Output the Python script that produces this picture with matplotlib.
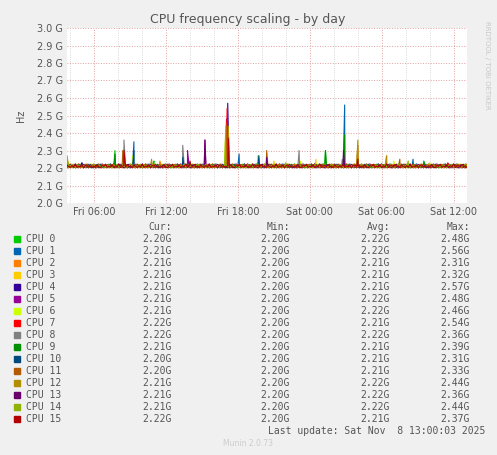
import matplotlib
matplotlib.use("Agg")
import matplotlib.pyplot as plt
import numpy as np

# ── Data (hours since Fri 00:00, values in GHz) ──
cpus = [f"CPU {i}" for i in range(16)]
colors = ["#00CC00", "#0066B3", "#FF8000", "#FFCC00", "#330099", "#990099",
          "#CCFF00", "#FF0000", "#808080", "#008F00", "#00487D", "#B35A00",
          "#B38F00", "#6B006B", "#8FB300", "#B30000"]
cur = ["2.20G", "2.21G", "2.21G", "2.21G", "2.21G", "2.21G", "2.21G", "2.22G",
       "2.22G", "2.21G", "2.20G", "2.20G", "2.21G", "2.21G", "2.21G", "2.22G"]
mins = ["2.20G"] * 16
avgs = ["2.22G", "2.22G", "2.21G", "2.21G", "2.21G", "2.22G", "2.22G", "2.21G",
        "2.22G", "2.21G", "2.21G", "2.21G", "2.22G", "2.22G", "2.22G", "2.21G"]
maxs = ["2.48G", "2.56G", "2.31G", "2.32G", "2.57G", "2.48G", "2.46G", "2.54G",
        "2.36G", "2.39G", "2.31G", "2.33G", "2.44G", "2.36G", "2.44G", "2.37G"]

# spikes: cpu -> [(hour, peak GHz)]
spikes = {
    0: [(7.75, 2.30), (17.1, 2.48), (25.3, 2.30), (19.7, 2.27), (11.0, 2.24)],
    1: [(9.33, 2.35), (26.9, 2.56), (18.1, 2.28), (32.6, 2.25)],
    2: [(8.5, 2.31), (30.4, 2.27), (3.75, 2.25), (11.5, 2.24)],
    3: [(3.75, 2.27), (21.0, 2.24), (24.5, 2.25), (34.0, 2.23)],
    4: [(17.15, 2.57), (13.8, 2.26), (5.0, 2.23)],
    5: [(17.05, 2.48), (15.25, 2.36), (13.8, 2.30)],
    6: [(17.0, 2.46), (9.2, 2.27), (23.2, 2.24), (31.0, 2.24)],
    7: [(17.1, 2.54), (3.75, 2.24), (28.0, 2.26), (35.5, 2.23)],
    8: [(8.5, 2.36), (13.4, 2.33), (23.1, 2.30), (26.7, 2.25)],
    9: [(26.9, 2.39), (25.3, 2.30), (7.75, 2.28), (33.5, 2.24)],
    10: [(19.75, 2.27), (9.33, 2.30), (13.4, 2.26)],
    11: [(28.0, 2.33), (20.4, 2.30), (8.4, 2.30), (31.5, 2.25)],
    12: [(17.2, 2.44), (28.0, 2.36), (30.4, 2.27), (10.8, 2.25)],
    13: [(15.25, 2.36), (26.8, 2.30), (20.4, 2.26)],
    14: [(17.0, 2.44), (3.75, 2.27), (32.2, 2.24), (22.0, 2.23)],
    15: [(17.2, 2.37), (8.5, 2.30), (28.0, 2.25), (14.0, 2.24)],
}
# hand-read baseline ripple around 2.2 GHz
ripple = [2.205, 2.212, 2.203, 2.218, 2.207, 2.201, 2.215, 2.209, 2.222, 2.204,
          2.211, 2.206, 2.219, 2.202, 2.213, 2.208, 2.224, 2.203, 2.210, 2.216,
          2.205, 2.221, 2.207, 2.212, 2.202, 2.217, 2.209, 2.204, 2.214, 2.206,
          2.220, 2.203, 2.211, 2.208, 2.215, 2.202, 2.213, 2.218, 2.205, 2.210]

t0, t1 = 3.75, 37.1
fig = plt.figure(figsize=(4.97, 4.55), dpi=100, facecolor="#f0f0f0")
ax = fig.add_axes([67 / 497, 1 - 203 / 455, 400 / 497, 175 / 455])
ax.set_facecolor("white")

for i in range(16):
    base_t = np.linspace(t0, t1, len(ripple) * 6)
    base_v = np.array([ripple[(k + 7 * i) % len(ripple)] for k in range(len(base_t))])
    pts = list(zip(base_t, base_v))
    for h, p in spikes[i]:
        pts += [(h - 0.12, 2.21), (h, p), (h + 0.12, 2.215)]
    pts.sort()
    tt, vv = zip(*pts)
    ax.plot(tt, vv, color=colors[i], lw=0.8)

ax.set_xlim(t0, t1)
ax.set_ylim(2.0, 3.0)
yt = np.round(np.arange(2.0, 3.01, 0.1), 1)
ax.set_yticks(yt)
ax.set_yticklabels([f"{v:.1f} G" for v in yt], fontsize=7, color="#555555")
ax.set_xticks([6, 12, 18, 24, 30, 36])
ax.set_xticklabels(["Fri 06:00", "Fri 12:00", "Fri 18:00", "Sat 00:00", "Sat 06:00", "Sat 12:00"],
                   fontsize=7, color="#555555")
ax.set_xticks(np.arange(4, 38, 2), minor=True)
ax.tick_params(length=0, which="both", pad=3)
ax.grid(True, which="minor", axis="x", color="#cccccc", ls=":", lw=0.6)
ax.grid(True, which="major", axis="both", color="#e0a0a0", ls=":", lw=0.7)
ax.set_axisbelow(True)
for s in ax.spines.values():
    s.set_visible(False)
ax.set_ylabel("Hz", fontsize=7, color="#555555", labelpad=8)
fig.text(248 / 497, 1 - 19 / 455, "CPU frequency scaling - by day", fontsize=9,
         color="#555555", ha="center", va="center")
fig.text(487 / 497, 1 - 65 / 455, "RRDTOOL / TOBI OETIKER", fontsize=5, color="#c8c8c8",
         rotation=270, ha="center", va="center")

mono = dict(family="DejaVu Sans Mono", fontsize=7, color="#555555", va="center")
def row_y(r):
    return 1 - (239 + 12 * r) / 455
fig.text(172 / 497, 1 - 227 / 455, "Cur:", ha="right", **mono)
fig.text(290 / 497, 1 - 227 / 455, "Min:", ha="right", **mono)
fig.text(390 / 497, 1 - 227 / 455, "Avg:", ha="right", **mono)
fig.text(470 / 497, 1 - 227 / 455, "Max:", ha="right", **mono)
for r in range(16):
    y = row_y(r)
    fig.patches.append(plt.Rectangle((14 / 497, y - 3 / 455), 6 / 497, 6 / 455,
                                     transform=fig.transFigure, color=colors[r]))
    fig.text(26 / 497, y, cpus[r], ha="left", **mono)
    fig.text(172 / 497, y, cur[r], ha="right", **mono)
    fig.text(290 / 497, y, mins[r], ha="right", **mono)
    fig.text(390 / 497, y, avgs[r], ha="right", **mono)
    fig.text(470 / 497, y, maxs[r], ha="right", **mono)
fig.text(485 / 497, 1 - 431 / 455, "Last update: Sat Nov  8 13:00:03 2025", ha="right", **mono)
fig.text(248 / 497, 1 - 443 / 455, "Munin 2.0.73", ha="center", va="center",
         fontsize=5.5, color="#cccccc")

fig.savefig("out.png", dpi=100, facecolor=fig.get_facecolor())
